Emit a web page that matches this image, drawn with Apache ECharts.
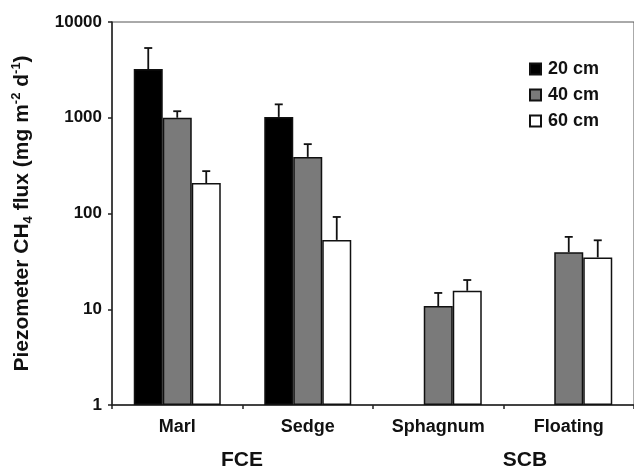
<!DOCTYPE html>
<html>
<head>
<meta charset="utf-8">
<script src="https://cdn.jsdelivr.net/npm/echarts@6/dist/echarts.min.js"></script>
<style>html,body{margin:0;padding:0;background:#fff}#c{width:634px;height:472px}</style>
</head>
<body>
<div id="c"></div>
<script>
var categories = ['Marl', 'Sedge', 'Sphagnum', 'Floating'];
var seriesNames = ['20 cm', '40 cm', '60 cm'];
var mean20 = [3230, 1020, null, null];
var mean40 = [1000, 390, 10.8, 39.4];
var mean60 = [208, 53, 15.6, 34.8];
var err20 = [5350, 1380, null, null];
var err40 = [1170, 530, 14.8, 57];
var err60 = [277, 92, 20.2, 52.5];
var yTicks = [1, 10, 100, 1000, 10000];
var groupLabels = ['FCE', 'SCB'];

var means = [mean20, mean40, mean60];
var errs = [err20, err40, err60];
var colors = ['#000000', '#7a7a7a', '#ffffff'];
var BAR_W = 29;
var FONT = 'Liberation Sans, Arial, sans-serif';

var chart = echarts.init(document.getElementById('c'), null, {renderer: 'canvas'});
var series = [];
seriesNames.forEach(function (name, i) {
  series.push({
    name: name,
    type: 'bar',
    barWidth: BAR_W,
    barGap: '0%',
    itemStyle: {color: colors[i], borderColor: '#111', borderWidth: 1.5},
    data: means[i],
    z: 2
  });
});
seriesNames.forEach(function (name, i) {
  var d = [];
  categories.forEach(function (c, k) {
    if (means[i][k] != null) d.push([k, means[i][k], errs[i][k]]);
  });
  series.push({
    type: 'custom',
    name: name + ' err',
    silent: true,
    z: 3,
    data: d,
    encode: {x: 0, y: 1},
    renderItem: function (params, api) {
      var k = api.value(0);
      var lo = api.coord([k, api.value(1)]);
      var hi = api.coord([k, api.value(2)]);
      var x = lo[0] + (i - 1) * BAR_W;
      var cap = 4;
      return {
        type: 'group',
        children: [
          {type: 'line', shape: {x1: x, y1: lo[1], x2: x, y2: hi[1]}, style: {stroke: '#111', lineWidth: 1.8}},
          {type: 'line', shape: {x1: x - cap, y1: hi[1], x2: x + cap, y2: hi[1]}, style: {stroke: '#111', lineWidth: 1.8}}
        ]
      };
    }
  });
});

chart.setOption({
  animation: false,
  backgroundColor: '#fff',
  grid: {left: 112, right: 0, top: 22, bottom: 67, show: true, borderColor: '#555', borderWidth: 1},
  legend: {
    data: seriesNames,
    orient: 'vertical',
    left: 524,
    top: 55,
    icon: 'rect',
    itemWidth: 11,
    itemHeight: 11,
    itemGap: 8,
    textStyle: {fontFamily: FONT, fontWeight: 'bold', fontSize: 18, color: '#111', padding: [0, 0, 0, 2]}
  },
  xAxis: {
    type: 'category',
    data: categories,
    axisLine: {lineStyle: {color: '#222', width: 1.5}},
    axisTick: {show: true, length: 4, lineStyle: {color: '#222', width: 1.5}},
    axisLabel: {fontFamily: FONT, fontWeight: 'bold', fontSize: 18, color: '#111', margin: 13}
  },
  yAxis: {
    type: 'log',
    logBase: 10,
    min: 1,
    max: 10000,
    name: 'Piezometer CH{sub|4} flux (mg m{sup|-2} d{sup|-1})',
    nameLocation: 'middle',
    nameGap: 77,
    nameTextStyle: {
      fontFamily: FONT, fontWeight: 'bold', fontSize: 21, color: '#111', lineHeight: 25,
      rich: {
        sub: {fontFamily: FONT, fontWeight: 'bold', fontSize: 13, color: '#111', verticalAlign: 'bottom', lineHeight: 25},
        sup: {fontFamily: FONT, fontWeight: 'bold', fontSize: 13, color: '#111', verticalAlign: 'top', lineHeight: 25}
      }
    },
    axisLine: {show: true, lineStyle: {color: '#222', width: 1.5}},
    axisTick: {show: true, length: 4, lineStyle: {color: '#222', width: 1.5}},
    splitLine: {show: false},
    axisLabel: {
      fontFamily: FONT, fontWeight: 'bold', fontSize: 17, color: '#111', margin: 10,
      formatter: function (v) { return yTicks.indexOf(v) >= 0 ? String(v) : ''; }
    }
  },
  graphic: [
    {type: 'text', x: 242, y: 460, style: {text: groupLabels[0], font: 'bold 21px ' + FONT, fill: '#111', textAlign: 'center', textVerticalAlign: 'middle'}},
    {type: 'text', x: 525, y: 460, style: {text: groupLabels[1], font: 'bold 21px ' + FONT, fill: '#111', textAlign: 'center', textVerticalAlign: 'middle'}}
  ],
  series: series
});
</script>
</body>
</html>
